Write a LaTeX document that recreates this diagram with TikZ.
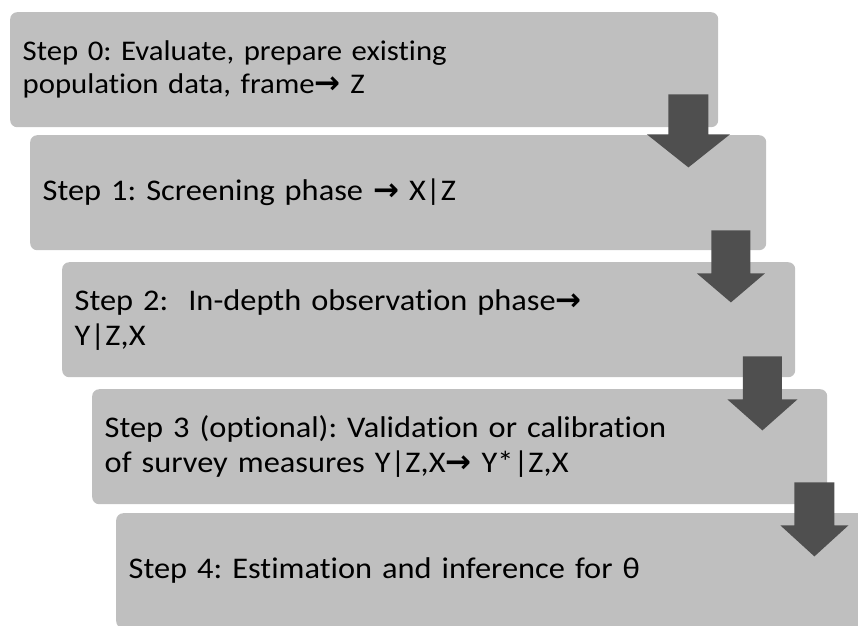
\documentclass[tikz,border=0pt]{standalone}
\usepackage{fontspec}
\setmainfont{Carlito}[Ligatures=NoCommon, FakeStretch=1.08]
\newfontfamily\arrowsym{DejaVu Sans}
\usetikzlibrary{calc}

\definecolor{boxgray}{HTML}{BFBFBF}
\definecolor{dropgray}{HTML}{4F4F4F}

\newcommand\ra{{\arrowsym\bfseries\fontsize{31}{34}\selectfont →}}

\tikzset{
  stepbox/.style={fill=boxgray, rounded corners=7pt, anchor=north west,
    minimum height=115pt, inner xsep=12.5pt, inner ysep=0pt, align=left,
    font=\frenchspacing\fontsize{30}{35}\selectfont, text=black},
  firstbox/.style={stepbox, font=\frenchspacing\fontsize{28.5}{33}\selectfont},
  % block arrow: shaft width, head width, total length, head length
  pics/droparrow/.style n args={4}{code={
    \fill[dropgray] (-#1/2,0) -- (#1/2,0) -- (#1/2,#3-#4) -- (#2/2,#3-#4)
      -- (0,#3) -- (-#2/2,#3-#4) -- (-#1/2,#3-#4) -- cycle;
  }}
}

\begin{document}
\begin{tikzpicture}[x=1pt, y=-1pt]
\useasboundingbox (0,0) rectangle (858,625);
\clip (0,0) rectangle (858,625);

% the five steps
\node[firstbox, text width=683pt] (s0) at (10,12)
  {Step 0: Evaluate, prepare existing\\population data, frame\ra\ Z};
\node[stepbox, text width=711pt] (s1) at (30,135)
  {Step 1: Screening phase \ra\ X|Z};
\node[stepbox, text width=708pt] (s2) at (62,262)
  {Step 2:\ \ In-depth observation phase\ra\\Y|Z,X};
\node[stepbox, text width=710pt] (s3) at (92,389)
  {Step 3 (optional): Validation or calibration\\of survey measures Y|Z,X\ra\ Y*|Z,X};
\node[stepbox, text width=735pt] (s4) at (116,513)
  {Step 4: Estimation and inference for θ};

% arrows leading from each step to the next
\pic at ($(s0.south east)+(-30,-33)$) {droparrow={40}{83}{73}{33}};
\pic at ($(s1.south east)+(-35.5,-20)$) {droparrow={39}{68}{72}{29}};
\pic at ($(s2.south east)+(-33,-21)$) {droparrow={39}{70}{74}{31}};
\pic at ($(s3.south east)+(-13,-22)$) {droparrow={40}{68}{74}{31}};
\end{tikzpicture}
\end{document}
